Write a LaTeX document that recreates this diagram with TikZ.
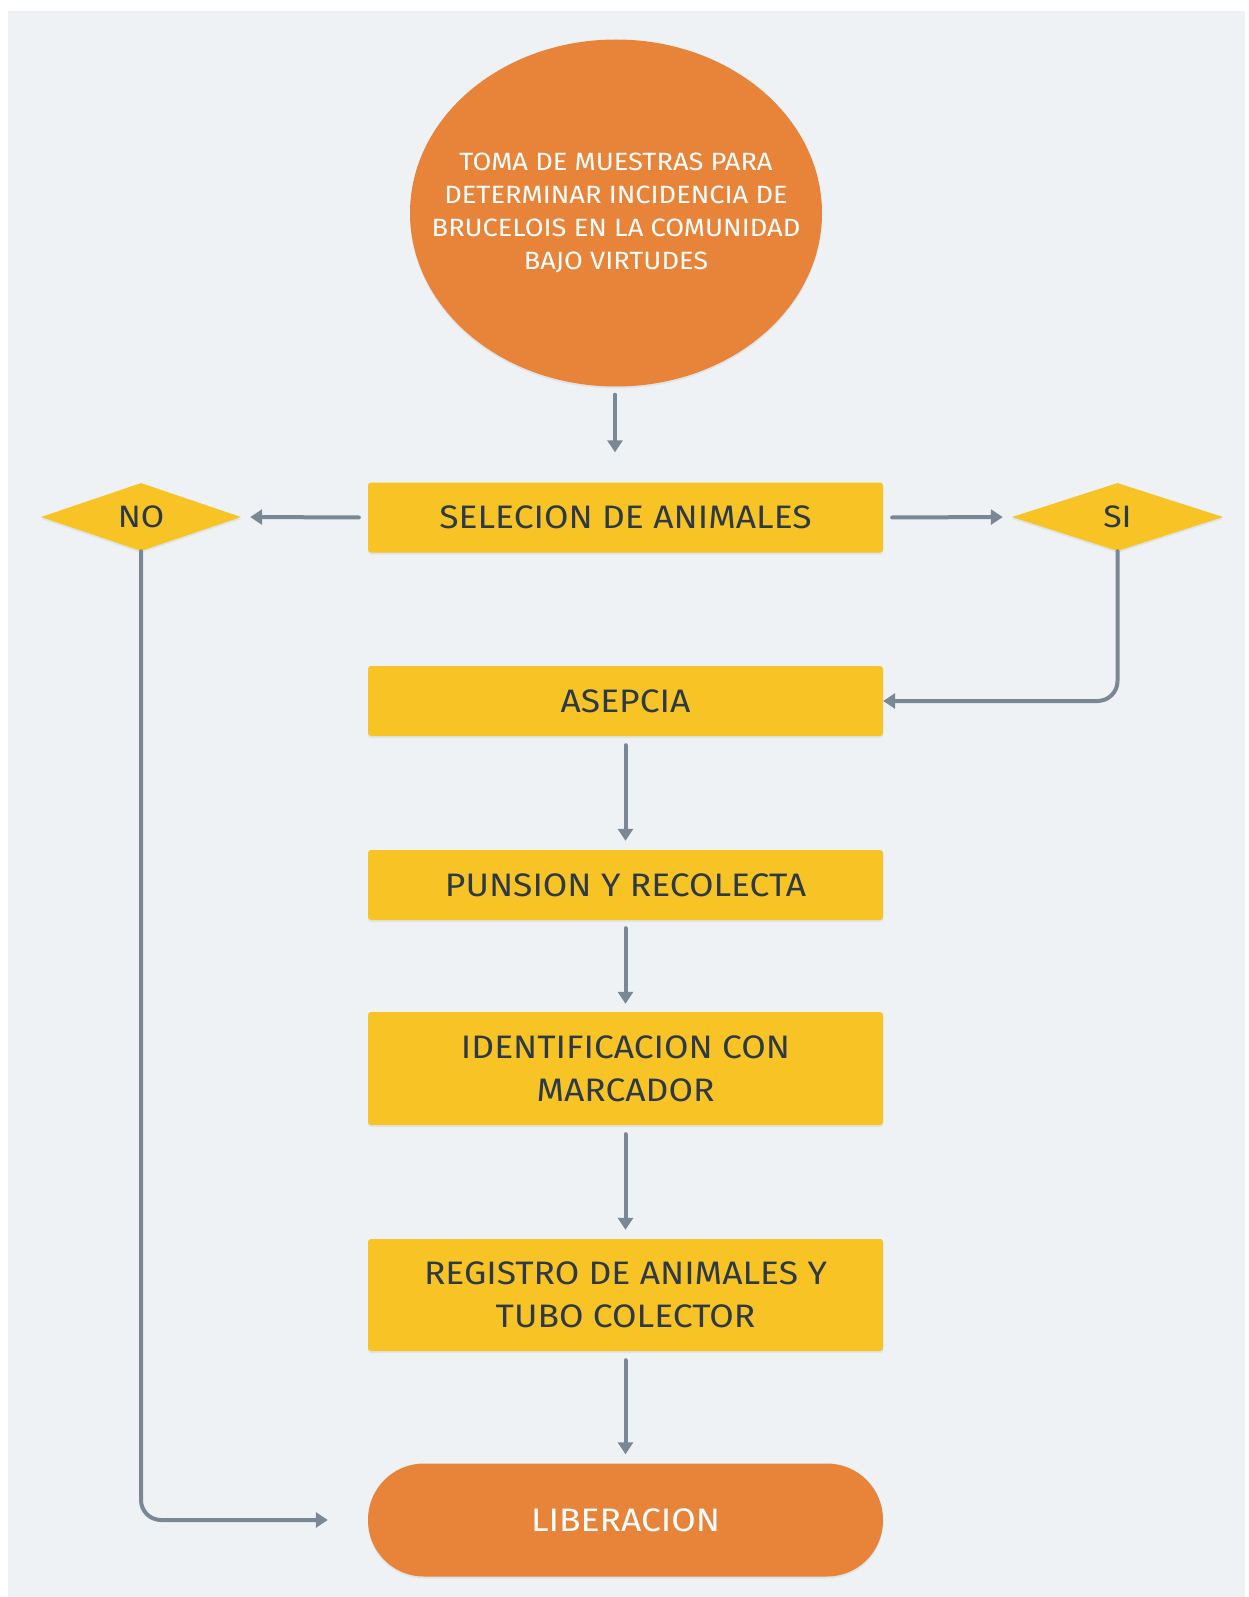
\documentclass[tikz,border=0pt]{standalone}
\usepackage{fontspec}
\setmainfont[FakeStretch=1.09]{Fira Sans}
\usetikzlibrary{shapes.geometric,arrows.meta,shadows}
\definecolor{bgc}{HTML}{EEF2F5}
\definecolor{orng}{HTML}{E8843A}
\definecolor{yell}{HTML}{F7C325}
\definecolor{arr}{HTML}{7A8794}
\definecolor{txt}{HTML}{2D3A45}
\tikzset{
  shad/.style={drop shadow={opacity=0.12,shadow xshift=0pt,shadow yshift=-2pt}},
  procbox/.style={rectangle,rounded corners=3pt,fill=yell,shad,text=txt,minimum width=515pt,inner sep=0pt,align=center,font=\fontsize{32.5}{43}\selectfont},
  decis/.style={diamond,fill=yell,shad,text=txt,minimum width=200pt,minimum height=68pt,aspect=2.9,inner sep=0pt,font=\fontsize{31}{36}\selectfont},
  flow/.style={arr,line width=4pt,line cap=round,rounded corners=20pt,-{Triangle[length=12pt,width=15pt]}},
}
\begin{document}
\begin{tikzpicture}[x=1pt,y=-1pt]
\useasboundingbox (0,0) rectangle (1249,1597);
\fill[white] (0,0) rectangle (1249,1597);
\fill[bgc] (8,11) rectangle (1245,1597);

\node[ellipse,fill=orng,shad,minimum width=412pt,minimum height=347pt,inner sep=0pt] (top) at (616,213) {};
\node[text=white,align=center,inner sep=0pt,font=\fontsize{25}{33}\selectfont] (toptext) at (top.center)
  {TOMA DE MUESTRAS PARA\\DETERMINAR INCIDENCIA DE\\BRUCELOIS EN LA COMUNIDAD\\BAJO VIRTUDES};

\node[procbox,minimum height=70pt] (sel) at (625.5,517.5) {SELECION DE ANIMALES};
\node[decis] (no) at (141,517) {NO};
\node[decis,minimum width=211pt] (si) at (1117.5,517) {SI};
\node[procbox,minimum height=70pt] (ase) at (625.5,701) {ASEPCIA};
\node[procbox,minimum height=70pt] (pun) at (625.5,885) {PUNSION Y RECOLECTA};
\node[procbox,minimum height=113pt] (ide) at (625.5,1068.5) {IDENTIFICACION CON\\MARCADOR};
\node[procbox,minimum height=112pt] (reg) at (625.5,1295) {REGISTRO DE ANIMALES Y\\TUBO COLECTOR};
\node[rectangle,rounded corners=56pt,fill=orng,shad,minimum width=515pt,minimum height=113pt,inner sep=0pt,text=white,font=\fontsize{32.5}{36}\selectfont] (lib) at (625.5,1520) {LIBERACION};

\draw[flow,shorten <=8pt,shorten >=30pt] (top.south -| 615,0) -- (sel.north -| 615,0);
\draw[flow,shorten <=9pt,shorten >=9pt] (sel.west) -- (no.east);
\draw[flow,shorten <=9pt,shorten >=9pt] (sel.east) -- (si.east -| si.west);
\draw[flow] (si.south) |- (ase.east);
\draw[flow,shorten <=9pt,shorten >=9pt] (ase.south) -- (pun.north);
\draw[flow,shorten <=8pt,shorten >=8pt] (pun.south) -- (ide.north);
\draw[flow,shorten <=9pt,shorten >=9pt] (ide.south) -- (reg.north);
\draw[flow,shorten <=9pt,shorten >=9pt] (reg.south) -- (lib.north);
\draw[flow,shorten >=40pt] (no.south) |- (lib.west);
\end{tikzpicture}
\end{document}
